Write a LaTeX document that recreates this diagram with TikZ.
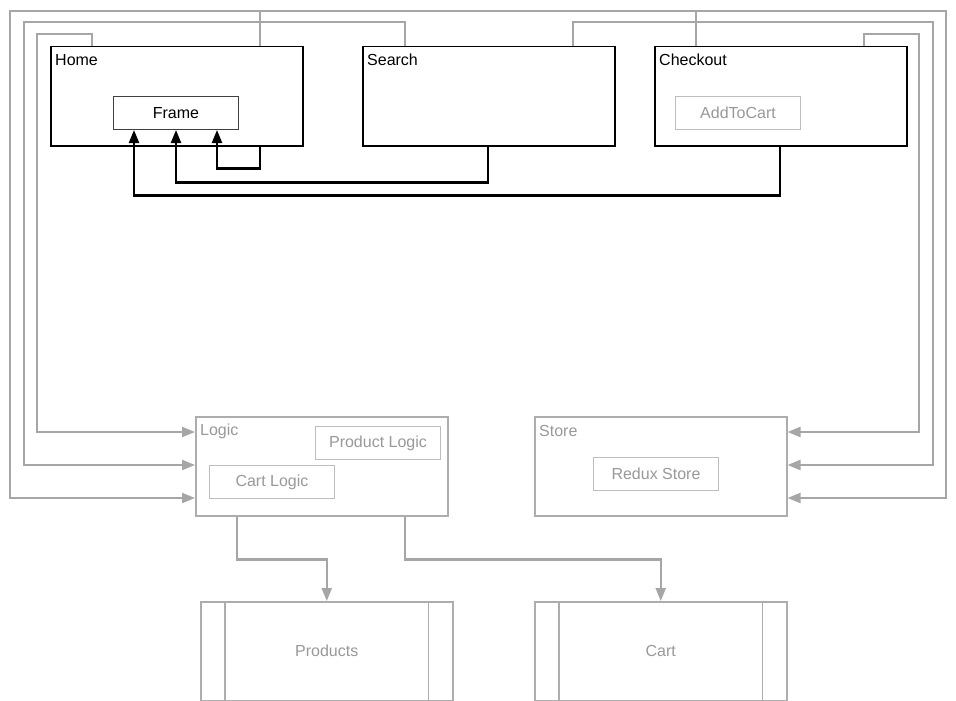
\documentclass[tikz,border=0pt]{standalone}
\usepackage{fontspec}
\setmainfont{Liberation Sans}
\usetikzlibrary{positioning, arrows.meta, calc}

\definecolor{edgegray}{HTML}{A6A6A6}
\definecolor{textgray}{HTML}{999999}
\definecolor{boxgray}{HTML}{ADADAD}
\definecolor{innergray}{HTML}{BDBDBD}

\begin{document}
\begin{tikzpicture}[
  x=1pt, y=-1pt,
  >={Triangle[length=13pt, width=10pt]},
  comp/.style={draw=black, line width=1.5pt, fill=white, anchor=north west,
    minimum width=252pt, minimum height=99pt, inner sep=0pt},
  grpbox/.style={comp, draw=boxgray},
  subbox/.style={draw=#1, line width=1pt, fill=white, minimum width=125pt,
    minimum height=33pt, inner sep=0pt, font=\fontsize{16}{19}\selectfont},
  ttl/.style={anchor=west, inner sep=0pt, font=\fontsize{16}{19}\selectfont},
  garr/.style={->, draw=edgegray, line width=2.2pt},
  barr/.style={->, draw=black, line width=2.2pt},
  procbox/.style={grpbox},
]
\useasboundingbox (0,0) rectangle (956,701);

% --- Pages (top row) ---
\node[comp] (home)     at (50,46)  {};
\node[comp] (search)   at (362,46) {};
\node[comp] (checkout) at (654,46) {};

\node[ttl] (homettl)     at ($(home.north west)+(5,14)$)     {Home};
\node[ttl] (searchttl)   at ($(search.north west)+(5,14)$)   {Search};
\node[ttl] (checkoutttl) at ($(checkout.north west)+(5,14)$) {Checkout};

\node[subbox=black!75, anchor=north west] (frame) at (113,96) {Frame};
\node[subbox=innergray, text=textgray, anchor=north west] (addtocart) at (675,96) {AddToCart};

% --- Logic and Store ---
\node[grpbox] (logic) at (195,416) {};
\node[grpbox] (store) at (534,416) {};

\node[ttl, text=textgray] (logicttl) at ($(logic.north west)+(5,15)$) {Logic};
\node[ttl, text=textgray] (storettl) at ($(store.north west)+(5,15)$) {Store};

\node[subbox=innergray, text=textgray, anchor=north west] (prodlogic) at (315,426) {Product Logic};
\node[subbox=innergray, text=textgray, anchor=north west] (cartlogic) at (209,465) {Cart Logic};
\node[subbox=innergray, text=textgray, anchor=north west] (redux)     at (593,457) {Redux Store};

% --- Data (bottom row) ---
\node[procbox] (products) at (200,601) {};
\node[procbox] (cart)     at (534,601) {};
\node[ttl, anchor=center, text=textgray] (productsttl) at (products.center) {Products};
\node[ttl, anchor=center, text=textgray] (cartttl)     at (cart.center)     {Cart};

\foreach \p in {products, cart} {
  \draw[boxgray, line width=1.5pt] ($(\p.north west)+(25,0)$) -- ($(\p.south west)+(25,0)$);
  \draw[boxgray, line width=1.5pt] ($(\p.north east)+(-25,0)$) -- ($(\p.south east)+(-25,0)$);
}

% --- Pages into Logic (gray) ---
\draw[garr] ($(home.north west)+(42,0)$)     |- (37,34) |- ($(logic.north west)+(0,16)$);
\draw[garr] ($(search.north west)+(43,0)$)   |- (24,22) |- ($(logic.north west)+(0,49)$);
\draw[garr] ($(checkout.north west)+(42,0)$) |- (10,11) |- ($(logic.north west)+(0,82)$);

% --- Pages into Store (gray) ---
\draw[garr] ($(home.north west)+(210,0)$)     |- (946,11) |- ($(store.north east)+(0,82)$);
\draw[garr] ($(search.north west)+(211,0)$)   |- (933,22) |- ($(store.north east)+(0,49)$);
\draw[garr] ($(checkout.north west)+(210,0)$) |- (919,34) |- ($(store.north east)+(0,16)$);

% --- Pages into Frame (black) ---
\draw[barr] ($(home.south west)+(210,0)$)     -- ++(0,22) -| ($(frame.south west)+(104,0)$);
\draw[barr] ($(search.south west)+(126,0)$)   -- ++(0,36) -| ($(frame.south west)+(63,0)$);
\draw[barr] ($(checkout.south west)+(126,0)$) -- ++(0,49) -| ($(frame.south west)+(21,0)$);

% --- Logic into data ---
\draw[garr] ($(logic.south west)+(42,0)$)  -- ++(0,43) -| (products.north);
\draw[garr] ($(logic.south west)+(210,0)$) -- ++(0,43) -| (cart.north);

\end{tikzpicture}
\end{document}
